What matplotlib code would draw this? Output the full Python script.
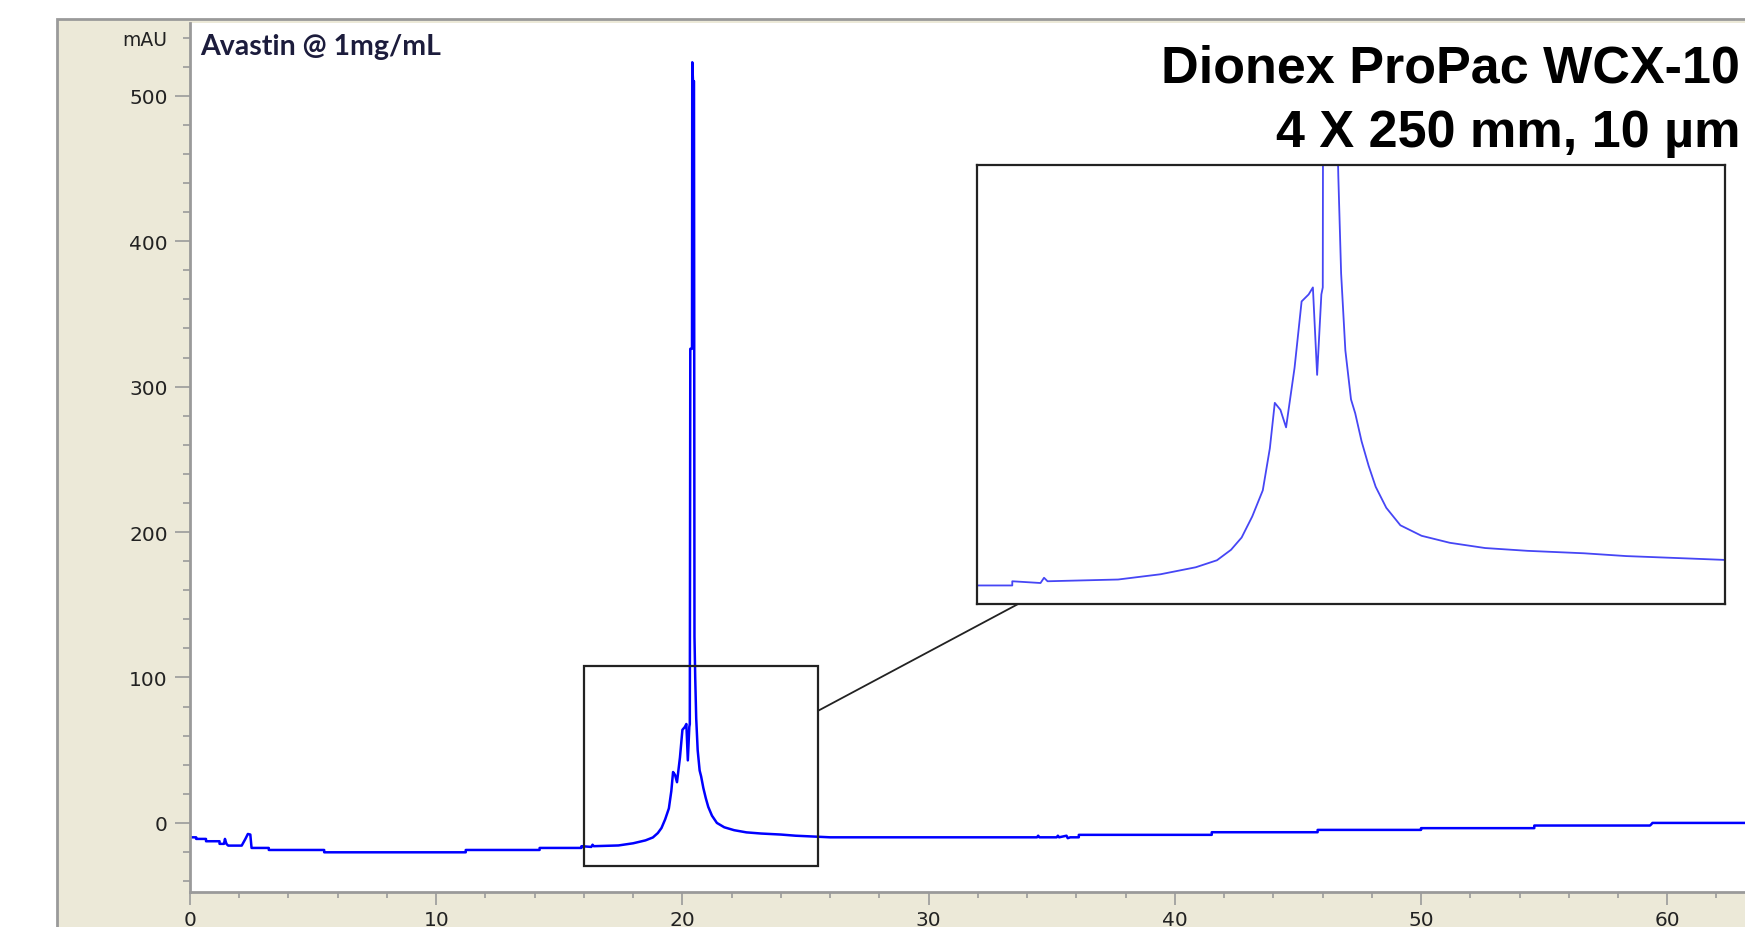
import matplotlib
matplotlib.use("Agg")
import matplotlib.pyplot as plt
from matplotlib.patches import Rectangle, ConnectionPatch
from matplotlib.ticker import MultipleLocator

# chromatogram trace, retention time (min) vs absorbance (mAU)
time_min = [
    0.0, 0.25, 0.25, 0.65, 0.65, 1.2, 1.2, 1.38, 1.42, 1.48, 1.55, 2.1, 2.25,
    2.35, 2.45, 2.5, 3.2, 3.2, 5.45, 5.45, 11.2, 11.2, 14.2, 14.2, 15.9, 15.9,
    16.3, 16.35, 16.4, 17.4, 18.0, 18.5, 18.8, 19.0, 19.15, 19.3, 19.45, 19.55,
    19.62, 19.7, 19.78, 19.9, 20.0, 20.1, 20.16, 20.22, 20.28, 20.3, 20.32,
    20.39, 20.4, 20.43, 20.47, 20.49, 20.52, 20.56, 20.62, 20.7, 20.76, 20.85,
    20.95, 21.05, 21.2, 21.4, 21.7, 22.1, 22.6, 23.2, 24.0, 24.6, 25.5, 26.0,
    34.4, 34.45, 34.5, 35.2, 35.25, 35.3, 35.6, 35.65, 35.75, 36.1, 36.1, 41.5,
    41.5, 45.8, 45.8, 50.0, 50.0, 54.6, 54.6, 59.3, 59.35, 59.4, 63.3,
]
absorbance = [
    -9.9, -9.9, -11.0, -11.0, -12.6, -12.6, -14.4, -14.4, -11.0, -14.4, -15.6,
    -15.6, -11.0, -7.6, -8.0, -17.2, -17.2, -18.6, -18.6, -20.2, -20.2, -18.6,
    -18.6, -17.2, -17.2, -16.0, -16.5, -15.0, -16.0, -15.5, -14.0, -12.0, -10.0,
    -7.0, -3.5, 2.5, 10.0, 22.0, 35.0, 33.0, 28.0, 45.0, 64.0, 66.0, 68.0, 43.0,
    66.0, 68.0, 326.0, 326.0, 523.0, 510.0, 510.0, 128.0, 100.0, 72.0, 50.0,
    36.0, 32.0, 24.0, 17.0, 11.0, 5.0, 0.0, -3.0, -5.0, -6.5, -7.3, -8.0, -8.8,
    -9.5, -9.9, -9.9, -8.8, -9.9, -9.9, -8.8, -9.9, -8.8, -10.5, -9.9, -9.9,
    -8.2, -8.2, -6.4, -6.4, -4.8, -4.8, -3.6, -3.6, -1.8, -1.8, -1.0, 0.0, 0.0,
]

# zoom window marked on the main trace, and the inset's view
box_x = [16.0, 25.5]
box_y = [-29.4, 107.8]
inset_xlim = [15.4, 26.0]
inset_ylim = [-22.5, 103.0]

W, H = 1745, 928
BEIGE = "#ece9d8"
GREY = "#9a9a9a"

fig = plt.figure(figsize=(W / 100, H / 100), dpi=100, facecolor="white")

# beige instrument panel behind the plot
fig.patches.append(Rectangle((57 / W, -0.01), 1.0, 1 - 20 / H + 0.01,
                             transform=fig.transFigure, facecolor=BEIGE,
                             edgecolor=GREY, linewidth=2, zorder=-10))

ax = fig.add_axes([190 / W, 1 - 893 / H, (W - 190) / W + 0.002, (893 - 24) / H])
ax.set_facecolor("white")
ax.plot(time_min, absorbance, color="#0000ff", linewidth=1.8, zorder=2)
ax.set_xlim(0, 63.3)
ax.set_ylim(-47.5, 550)

ax.xaxis.set_major_locator(MultipleLocator(10))
ax.xaxis.set_minor_locator(MultipleLocator(2))
ax.set_yticks([0, 100, 200, 300, 400, 500])
ax.yaxis.set_minor_locator(MultipleLocator(20))
for s in ["top", "right"]:
    ax.spines[s].set_visible(False)
for s in ["left", "bottom"]:
    ax.spines[s].set_color(GREY)
    ax.spines[s].set_linewidth(2)
ax.tick_params(axis="y", which="major", length=11, width=1.2, color=GREY,
               pad=5, labelsize=14.5, labelcolor="#222222")
ax.tick_params(axis="y", which="minor", length=5, width=1.2, color=GREY)
ax.tick_params(axis="x", which="major", length=9, width=1.2, color=GREY,
               pad=4, labelsize=14.5, labelcolor="#222222")
ax.tick_params(axis="x", which="minor", length=4, width=1.2, color=GREY)

fig.text(167 / W, 1 - 40 / H, "mAU", ha="right", va="center", fontsize=13.5,
         color="#222222")
fig.text(200 / W, 1 - 47 / H, "Avastin @ 1mg/mL", ha="left", va="center",
         fontsize=20.5, fontweight="bold", family="Lato", color="#1c1c3c")
fig.text(1740 / W, 1 - 69 / H, "Dionex ProPac WCX-10", ha="right", va="center",
         fontsize=37.5, fontweight="bold", family="Liberation Sans", color="black")
fig.text(1740 / W, 1 - 134 / H, "4 X 250 mm, 10 \u00b5m", ha="right", va="center",
         fontsize=37.5, fontweight="bold", family="Liberation Sans", color="black")

ax.add_patch(Rectangle((box_x[0], box_y[0]), box_x[1] - box_x[0], box_y[1] - box_y[0],
                       fill=False, edgecolor="#222222", linewidth=1.6, zorder=3))

# enlarged view of the peak cluster
axin = fig.add_axes([977 / W, 1 - 605 / H, 748 / W, 439 / H])
axin.plot(time_min, absorbance, color="#4646f5", linewidth=1.3)
axin.set_xlim(inset_xlim)
axin.set_ylim(inset_ylim)
axin.set_xticks([])
axin.set_yticks([])
for s in axin.spines.values():
    s.set_color("#222222")
    s.set_linewidth(1.6)

con = ConnectionPatch(xyA=(box_x[1], 77), coordsA=ax.transData,
                      xyB=(0.055, 0.0), coordsB=axin.transAxes,
                      color="#222222", linewidth=1.3)
fig.add_artist(con)

fig.savefig("out.png", dpi=100)
